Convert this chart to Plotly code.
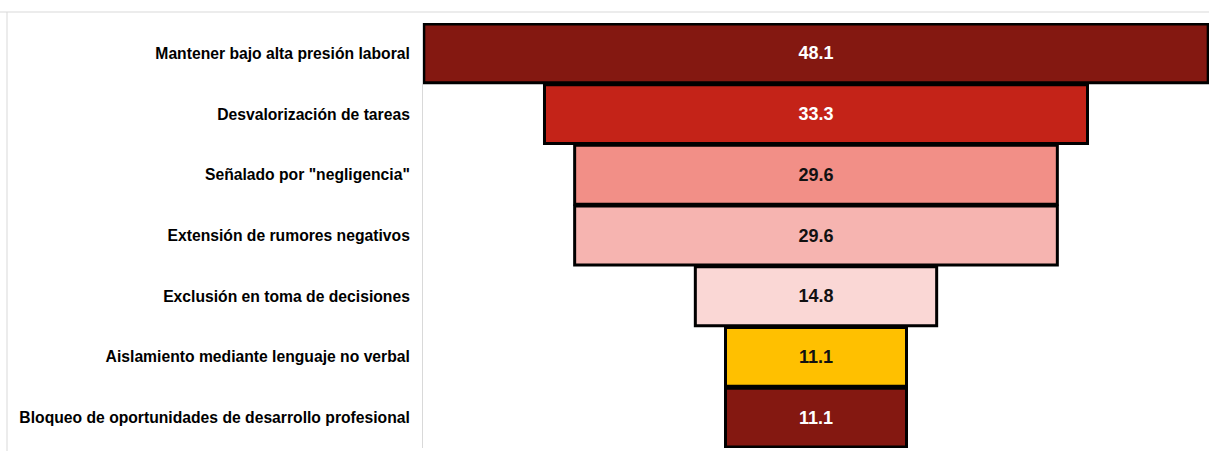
import plotly.graph_objects as go

categories = [
    "Mantener bajo alta presión laboral",
    "Desvalorización de tareas",
    "Señalado por \"negligencia\"",
    "Extensión de rumores negativos",
    "Exclusión en toma de decisiones",
    "Aislamiento mediante lenguaje no verbal",
    "Bloqueo de oportunidades de desarrollo profesional",
]
values = [48.1, 33.3, 29.6, 29.6, 14.8, 11.1, 11.1]
bar_colors = ["#841811", "#C42318", "#F28F87", "#F6B4B0", "#FAD7D5", "#FFC000", "#841811"]
text_colors = ["white", "white", "#111111", "#111111", "#111111", "#111111", "white"]

fig = go.Figure(go.Funnel(
    y=categories,
    x=values,
    textinfo="value",
    texttemplate="%{value:.1f}",
    textposition="inside",
    insidetextanchor="middle",
    textfont=dict(family="Liberation Sans, Arial, sans-serif", size=18, color=text_colors, weight="bold"),
    marker=dict(color=bar_colors, line=dict(color="black", width=3)),
    connector=dict(visible=False),
))

fig.update_layout(
    width=1209, height=451,
    margin=dict(l=423, r=0, t=23, b=3),
    paper_bgcolor="white", plot_bgcolor="white",
    funnelgap=0.03,
    showlegend=False,
    font=dict(family="Liberation Sans, Arial, sans-serif", color="black"),
    xaxis=dict(visible=False, range=[-24.1, 24.1]),
    yaxis=dict(
        tickfont=dict(family="Liberation Sans, Arial, sans-serif", size=15.7, color="black", weight="bold"),
        showline=True, linecolor="#d9d9d9", linewidth=1,
        ticks="", ticklabelstandoff=9,
    ),
    shapes=[
        dict(type="line", xref="paper", yref="paper", x0=-423/786, x1=1.0, y0=1 + 11/425, y1=1 + 11/425,
             line=dict(color="#d9d9d9", width=1)),
        dict(type="line", xref="paper", yref="paper", x0=-416/786, x1=-416/786, y0=-3/425, y1=1 + 11/425,
             line=dict(color="#d9d9d9", width=1)),
    ],
)

fig.write_html("out.html")
